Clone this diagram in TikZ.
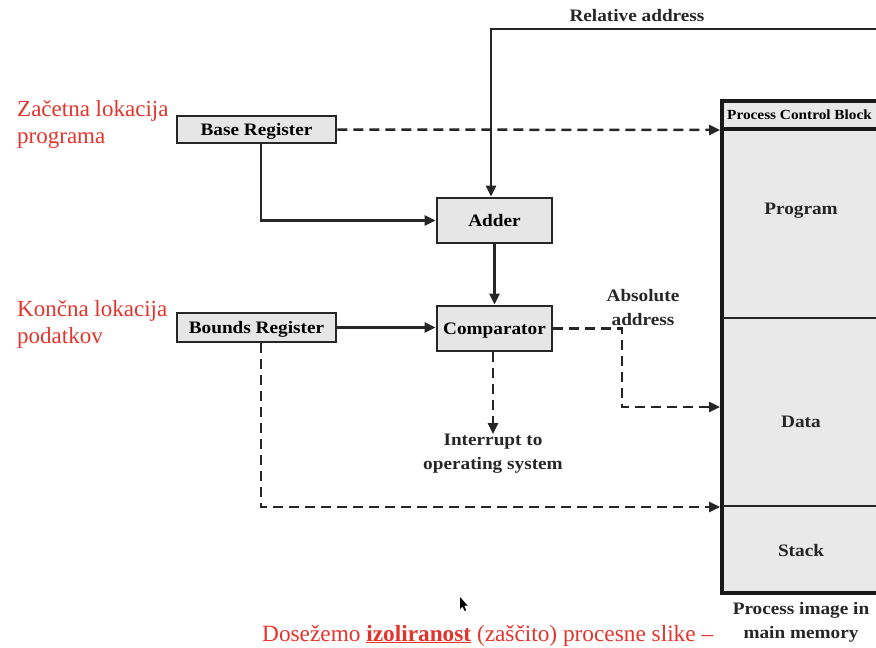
\documentclass[tikz,border=0pt]{standalone}
\usepackage{fontspec}
\setmainfont{Liberation Serif}
\newfontfamily\widebold[FakeStretch=1.1]{Liberation Serif Bold}
\usetikzlibrary{arrows.meta}
\definecolor{boxfill}{HTML}{E6E6E6}
\definecolor{memfill}{HTML}{E9E9E9}
\definecolor{slidered}{HTML}{E3342C}
\tikzset{
  unit/.style={draw=black!85, line width=2.6pt, fill=boxfill, inner sep=0pt,
    text height=13.6pt, text depth=2pt, font=\fontsize{17.5}{18}\widebold},
  flow/.style={line width=2.5pt, draw=black!85, -{Triangle[length=11pt,width=10pt]}},
  dflow/.style={flow, dash pattern=on 10pt off 6pt},
  lbl/.style={font=\fontsize{17.5}{24}\widebold, align=center, inner sep=0pt, text=black!85},
  memlbl/.style={font=\fontsize{17.5}{18}\widebold, inner sep=0pt, text=black!85},
  note/.style={font=\fontsize{23}{27}\selectfont, text=slidered, align=left, inner sep=0pt, anchor=north west}
}
\begin{document}
\begin{tikzpicture}[x=1pt, y=-1pt]
\useasboundingbox (0,0) rectangle (876,648);
\clip (0,0) rectangle (876,648);

% registers and logic units
\node[unit, minimum width=159pt, minimum height=27pt] (base)   at (256.5,129.5) {Base Register};
\node[unit, minimum width=159pt, minimum height=29pt] (bounds) at (256.5,327.5) {Bounds Register};
\node[unit, minimum width=115pt, minimum height=45pt] (adder)  at (494.5,220.5) {Adder};
\node[unit, minimum width=115pt, minimum height=45pt] (comp)   at (494.5,328.5) {Comparator};

% process image in main memory
\fill[memfill] (722,101) rectangle (900,593);
\draw[line width=4pt, draw=black!90] (722,101) rectangle (900,593);
\draw[line width=3.6pt, draw=black!90] (722,129) -- (900,129);
\draw[line width=2.4pt, draw=black!85] (722,318) -- (900,318);
\draw[line width=2.8pt, draw=black!85] (722,506) -- (900,506);
\node[font=\fontsize{13.9}{15}\widebold, inner sep=0pt, anchor=west] (pcb) at (727,115) {Process Control Block};
\node[memlbl] (prog)  at (801,211) {Program};
\node[memlbl] (data)  at (801,422) {Data};
\node[memlbl] (stack) at (801,551) {Stack};
\node[lbl] (img) at (801,622) {Process image in\\main memory};

\coordinate (pcbin)   at (720,130);
\coordinate (datain)  at (720,407);
\coordinate (stackin) at (720,507);
\coordinate (relsrc)  at (880,29);

% relative address path
\node[lbl] (rel) at (637,16) {Relative address};
\draw[flow] (relsrc) -- (491,29) -- (adder.north -| 491,0);

% base register to adder and to PCB
\draw[flow] (base.south -| 261,0) |- (adder.west);
\draw[dflow] (base.east) -- (pcbin);

% adder to comparator, bounds to comparator
\draw[flow] (adder.south) -- (comp.north);
\draw[flow] (bounds.east) -- (comp.west |- bounds.east);

% absolute address to memory
\node[lbl] (abs) at (643,308) {Absolute\\address};
\draw[dflow] (comp.east) -- (622,328.5) |- (datain);

% interrupt path
\node[lbl] (intr) at (493,454) {Interrupt to\\operating system};
\draw[dflow] (comp.south -| 493,0) -- (intr.north);

% bounds register to stack boundary
\draw[dflow] (bounds.south -| 261,0) |- (stackin);

% annotations
\node[note] (n1) at (17,100) {Začetna lokacija\\programa};
\node[note] (n2) at (17,300) {Končna lokacija\\podatkov};
\node[font=\fontsize{23.3}{24}\selectfont, text=slidered, inner sep=0pt, anchor=base west] (n3) at (262,641)
  {Dosežemo \textbf{\underline{izoliranost}} (zaščito) procesne slike –};

% mouse pointer
\fill[black] (460,597) -- (460,609) -- (462.6,606.6) -- (464.6,611) -- (466.2,610.2) -- (464.2,605.8) -- (467.6,605.6) -- cycle;
\end{tikzpicture}
\end{document}
